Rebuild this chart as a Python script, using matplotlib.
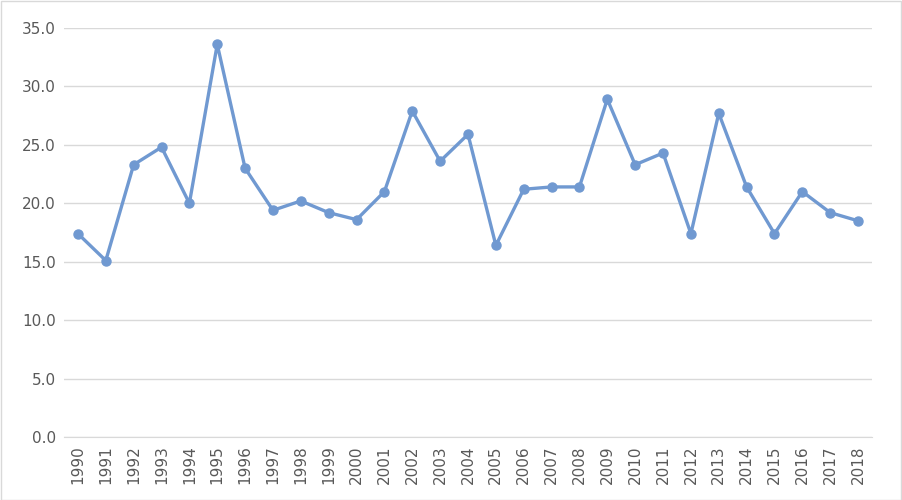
import matplotlib
matplotlib.use("Agg")
import matplotlib.pyplot as plt

years = [str(y) for y in range(1990, 2019)]
values = [17.4, 15.1, 23.3, 24.8, 20.0, 33.6, 23.0, 19.4, 20.2, 19.2, 18.6, 21.0, 27.9, 23.6, 25.9,
          16.4, 21.2, 21.4, 21.4, 28.9, 23.3, 24.3, 17.4, 27.7, 21.4, 17.4, 21.0, 19.2, 18.5]
yticks = [0, 5, 10, 15, 20, 25, 30, 35]

fig = plt.figure(figsize=(9.02, 5.0), dpi=100)
ax = fig.add_axes([64/902, 1-437/500, (872-64)/902, (437-28)/500])
color = "#7099d1"
x = list(range(len(years)))
ax.plot(x, values, color=color, lw=2.4, marker="o", ms=6.5, zorder=3)
ax.set_xlim(-0.5, len(years) - 0.5)
ax.set_ylim(0, 35)
ax.set_yticks(yticks)
ax.set_yticklabels([f"{v:.1f}" for v in yticks], fontsize=11, color="#595959")
ax.set_xticks(x)
ax.set_xticklabels(years, rotation=90, fontsize=11, color="#595959")
ax.grid(axis="y", color="#d9d9d9", lw=1)
ax.set_axisbelow(True)
for s in ["top", "right", "left"]:
    ax.spines[s].set_visible(False)
ax.spines["bottom"].set_color("#d9d9d9")
ax.tick_params(length=0, pad=6)
fig.patches.append(plt.Rectangle((0.001, 0.001), 0.998, 0.997, transform=fig.transFigure,
                                 fill=False, edgecolor="#d9d9d9", lw=1))
fig.savefig("out.png", dpi=100)
